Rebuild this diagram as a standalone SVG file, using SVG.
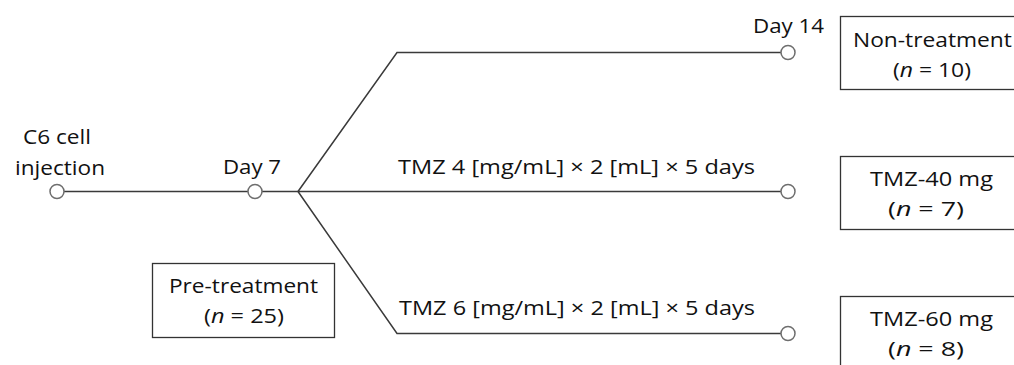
<svg xmlns="http://www.w3.org/2000/svg" width="1014" height="365" viewBox="0 0 1014 365">
  <style>
    .lbl { font-family: "Open Sans", "Liberation Sans", sans-serif; font-size: 19.5px; fill: #111111; }
    .it { font-style: italic; }
    .box { fill: #ffffff; stroke: #333333; stroke-width: 1.3; }
    .line { fill: none; stroke: #3a3a3a; stroke-width: 1.5; }
    .pt { fill: #ffffff; stroke: #6e6e6e; stroke-width: 1.5; }
  </style>
  <rect width="1014" height="365" fill="#ffffff"/>

  <!-- timeline connectors -->
  <g id="connectors">
    <line class="line" x1="64" y1="191.5" x2="248" y2="191.5"/>
    <line class="line" x1="262" y1="191.5" x2="781" y2="191.5"/>
    <polyline class="line" points="298,191.5 397,52.5 781,52.5"/>
    <polyline class="line" points="298,191.5 397,333.5 781,333.5"/>
  </g>

  <!-- labels are set in a horizontally widened face: matrix(1.18 0 0 1 x y) -->
  <g id="start">
    <circle class="pt" cx="57" cy="191.5" r="7"/>
    <text class="lbl" transform="matrix(1.18 0 0 1 23 144)" textLength="57.6" lengthAdjust="spacingAndGlyphs">C6 cell</text>
    <text class="lbl" transform="matrix(1.18 0 0 1 15 175)" textLength="76.3" lengthAdjust="spacingAndGlyphs">injection</text>
  </g>
  <g id="day7">
    <circle class="pt" cx="255" cy="191.5" r="7"/>
    <text class="lbl" transform="matrix(1.18 0 0 1 223 174)" textLength="49.2" lengthAdjust="spacingAndGlyphs">Day 7</text>
  </g>
  <g id="day14">
    <circle class="pt" cx="788" cy="52.5" r="7"/>
    <text class="lbl" transform="matrix(1.18 0 0 1 753 33)" textLength="60.2" lengthAdjust="spacingAndGlyphs">Day 14</text>
  </g>
  <g id="end-tmz40">
    <circle class="pt" cx="788" cy="191.5" r="7"/>
    <text class="lbl" transform="matrix(1.18 0 0 1 398 174)" textLength="302.5" lengthAdjust="spacingAndGlyphs">TMZ 4 [mg/mL] × 2 [mL] × 5 days</text>
  </g>
  <g id="end-tmz60">
    <circle class="pt" cx="788" cy="333.5" r="7"/>
    <text class="lbl" transform="matrix(1.18 0 0 1 399 315)" textLength="301.7" lengthAdjust="spacingAndGlyphs">TMZ 6 [mg/mL] × 2 [mL] × 5 days</text>
  </g>

  <!-- group boxes -->
  <g id="pre-treatment">
    <rect class="box" x="152.5" y="263.5" width="182" height="74"/>
    <text class="lbl" transform="matrix(1.18 0 0 1 169 293)" textLength="126.3" lengthAdjust="spacingAndGlyphs">Pre-treatment</text>
    <text class="lbl" transform="matrix(1.18 0 0 1 204 323)" textLength="67.8" lengthAdjust="spacingAndGlyphs">(<tspan class="it">n</tspan> = 25)</text>
  </g>
  <g id="non-treatment">
    <rect class="box" x="840.5" y="16.5" width="200" height="73"/>
    <text class="lbl" transform="matrix(1.18 0 0 1 853 47)" textLength="134.7" lengthAdjust="spacingAndGlyphs">Non-treatment</text>
    <text class="lbl" transform="matrix(1.18 0 0 1 893 77)" textLength="66.1" lengthAdjust="spacingAndGlyphs">(<tspan class="it">n</tspan> = 10)</text>
  </g>
  <g id="tmz-40">
    <rect class="box" x="840.5" y="156.5" width="200" height="73"/>
    <text class="lbl" transform="matrix(1.18 0 0 1 870 186)" textLength="104.2" lengthAdjust="spacingAndGlyphs">TMZ-40 mg</text>
    <text class="lbl" transform="matrix(1.18 0 0 1 888 216)" textLength="64.4" lengthAdjust="spacingAndGlyphs">(<tspan class="it">n</tspan> = 7)</text>
  </g>
  <g id="tmz-60">
    <rect class="box" x="840.5" y="296.5" width="200" height="80"/>
    <text class="lbl" transform="matrix(1.18 0 0 1 870 326)" textLength="104.2" lengthAdjust="spacingAndGlyphs">TMZ-60 mg</text>
    <text class="lbl" transform="matrix(1.18 0 0 1 888 356)" textLength="64.4" lengthAdjust="spacingAndGlyphs">(<tspan class="it">n</tspan> = 8)</text>
  </g>
</svg>
